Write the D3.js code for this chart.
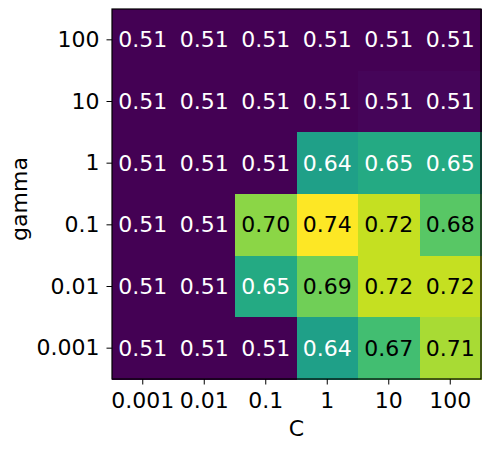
<!DOCTYPE html>
<html>
<head>
<meta charset="utf-8">
<script src="https://cdn.jsdelivr.net/npm/d3@7"></script>
<style>
  body { margin: 0; background: #fff; }
  svg text { font-family: "DejaVu Sans", sans-serif; }
</style>
</head>
<body>
<div id="chart"></div>
<script>
// grid search scores, rows = gamma (top to bottom), cols = C
const cValues = ["0.001", "0.01", "0.1", "1", "10", "100"];
const gammaValues = ["100", "10", "1", "0.1", "0.01", "0.001"];

const row100 = [0.510, 0.510, 0.510, 0.510, 0.510, 0.510];
const row10 = [0.510, 0.510, 0.510, 0.510, 0.513, 0.513];
const row1 = [0.510, 0.510, 0.510, 0.640, 0.650, 0.650];
const row01 = [0.510, 0.510, 0.700, 0.740, 0.720, 0.680];
const row001 = [0.510, 0.510, 0.650, 0.690, 0.720, 0.720];
const row0001 = [0.510, 0.510, 0.510, 0.640, 0.670, 0.710];

const scores = [row100, row10, row1, row01, row001, row0001];

const width = 491, height = 450;
const margin = { top: 9, right: 10, bottom: 71, left: 112 };

const svg = d3.select("#chart").append("svg")
  .attr("width", width)
  .attr("height", height);

const cells = [];
scores.forEach(function(row, i) {
  row.forEach(function(v, j) {
    cells.push({ gamma: gammaValues[i], c: cValues[j], value: v });
  });
});

const x = d3.scaleBand()
  .domain(cValues)
  .range([margin.left, width - margin.right]);

const y = d3.scaleBand()
  .domain(gammaValues)
  .range([margin.top, height - margin.bottom]);

const allVals = cells.map(d => d.value);
const color = d3.scaleSequential(d3.interpolateViridis)
  .domain([d3.min(allVals), d3.max(allVals)]);

svg.append("g")
  .attr("shape-rendering", "crispEdges")
  .selectAll("rect")
  .data(cells)
  .enter()
  .append("rect")
    .attr("x", d => x(d.c))
    .attr("y", d => y(d.gamma))
    .attr("width", x.bandwidth() + 1)
    .attr("height", y.bandwidth() + 1)
    .attr("fill", d => color(d.value));

svg.append("g")
  .selectAll("text")
  .data(cells)
  .enter()
  .append("text")
    .attr("x", d => x(d.c) + x.bandwidth() / 2)
    .attr("y", d => y(d.gamma) + y.bandwidth() / 2)
    .attr("dy", "0.34em")
    .attr("text-anchor", "middle")
    .attr("font-size", "22px")
    .attr("fill", d => d.value < 0.66 ? "#fff" : "#000")
    .text(d => d.value.toFixed(2));

// frame
svg.append("rect")
  .attr("x", margin.left)
  .attr("y", margin.top)
  .attr("width", width - margin.left - margin.right)
  .attr("height", height - margin.top - margin.bottom)
  .attr("fill", "none")
  .attr("stroke", "#000")
  .attr("stroke-width", 1.2);

const xAxis = svg.append("g")
  .attr("transform", `translate(0,${height - margin.bottom})`)
  .call(d3.axisBottom(x).tickSize(5.5).tickPadding(8));

const yAxis = svg.append("g")
  .attr("transform", `translate(${margin.left},0)`)
  .call(d3.axisLeft(y).tickSize(5.5).tickPadding(7));

[xAxis, yAxis].forEach(function(g) {
  g.select(".domain").remove();
  g.selectAll(".tick line").attr("stroke", "#000").attr("stroke-width", 1);
  g.selectAll(".tick text")
    .attr("fill", "#000")
    .attr("font-size", "22px")
    .attr("font-family", "DejaVu Sans, sans-serif");
});

svg.append("text")
  .attr("x", margin.left + (width - margin.left - margin.right) / 2)
  .attr("y", 436)
  .attr("text-anchor", "middle")
  .attr("font-size", "22px")
  .text("C");

svg.append("text")
  .attr("transform", "translate(27,199) rotate(-90)")
  .attr("text-anchor", "middle")
  .attr("font-size", "22px")
  .text("gamma");
</script>
</body>
</html>
